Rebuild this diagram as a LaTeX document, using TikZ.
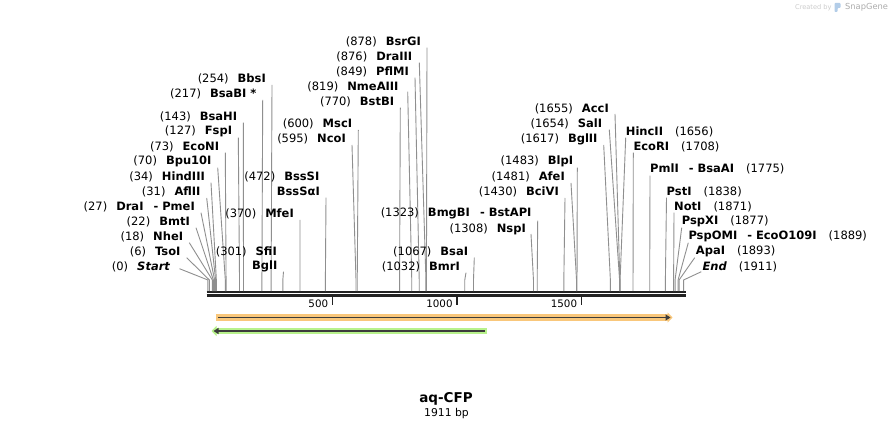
\documentclass[tikz,border=0pt]{standalone}
\usepackage{fontspec}
\setmainfont{DejaVu Sans}
\usetikzlibrary{positioning,arrows.meta,calc}
\definecolor{cutgray}{HTML}{8F8F8F}
\definecolor{bardark}{HTML}{222222}
\definecolor{featorange}{HTML}{F9C77B}
\definecolor{featgreen}{HTML}{B8F28C}
\definecolor{featdark}{HTML}{3C3C3C}
\definecolor{iconblue}{HTML}{B3CDE8}
\tikzset{
  site/.style={inner sep=0pt, font=\fontsize{11.5}{13}\selectfont},
  sitel/.style={site, anchor=east},
  siter/.style={site, anchor=west},
  cutln/.style={draw=cutgray, line width=0.9pt},
  seqbar/.style={draw=bardark, line width=2.7pt},
  tickmk/.style={draw=bardark, line width=1.5pt},
  ticklbl/.style={inner sep=0pt, anchor=east, font=\fontsize{10.3}{12}\selectfont},
  feathalo/.style={line width=6.5pt, -{Triangle[length=5pt,width=10pt]}},
  featline/.style={draw=featdark, line width=1.8pt, -{Triangle[length=5pt,width=6pt]}}
}
\newcommand{\bpx}[1]{207.9+0.2489*#1}
\newcommand{\cutl}[2]{(#1)\hspace{9pt}\textbf{#2}}
\newcommand{\cutr}[2]{\textbf{#2}\hspace{12pt}(#1)}
\newcommand{\cutsep}{\hspace{10pt}-\hspace{4pt}}

\begin{document}
\begin{tikzpicture}[x=1pt, y=-1pt]
  \fill[white] (0,0) rectangle (893,430);
  \useasboundingbox (0,0) rectangle (893,430);
  %% positions on the sequence
  \foreach \p in {0,6,18,22,27,31,34,70,73,127,143,217,254,301,370,472,595,600,
                  770,819,849,876,878,1032,1067,1308,1323,1430,1481,1483,1617,
                  1654,1655,1656,1708,1775,1838,1871,1877,1889,1893,1911}
    \coordinate (b\p) at ({\bpx{\p}},280);
  %% sequence and ruler
  \draw[seqbar] (206.5,292) -- (686,292);
  \draw[seqbar] (206.5,295.8) -- (686,295.8);
  \foreach \t in {500,1000,1500} {
    \draw[tickmk] ({\bpx{\t}},297) -- ++(0,8);
    \node[ticklbl] (tick\t) at ({\bpx{\t}-4},303.5) {\t};
  }
  %% features
  \draw[feathalo, featorange] (216,317.5) -- (672.5,317.5);
  \draw[featline] (218,317.5) -- (670.5,317.5);
  \draw[feathalo, featgreen] (487,331) -- (211.5,331);
  \draw[featline] (485,331) -- (213.5,331);
  %% left group
  \node[sitel] (start)   at (170.5,266.7) {\cutl{0}{\textit{Start}}};
  \node[sitel] (tsoi)    at (180.7,251.7) {\cutl{6}{TsoI}};
  \node[sitel] (nhei)    at (183.3,236.7) {\cutl{18}{NheI}};
  \node[sitel] (bmti)    at (190,221.7)   {\cutl{22}{BmtI}};
  \node[sitel] (drai)    at (195,206.7)   {\cutl{27}{DraI\cutsep PmeI}};
  \node[sitel] (aflii)   at (200.7,192)   {\cutl{31}{AflII}};
  \node[sitel] (hindiii) at (205,176.7)   {\cutl{34}{HindIII}};
  \node[sitel] (bpu)     at (211.7,161.7) {\cutl{70}{Bpu10I}};
  \node[sitel] (econi)   at (219.3,146.7) {\cutl{73}{EcoNI}};
  \node[sitel] (fspi)    at (232.3,131.7) {\cutl{127}{FspI}};
  \node[sitel] (bsahi)   at (237.3,116.7) {\cutl{143}{BsaHI}};
  \node[sitel] (bsabi)   at (256.7,94)    {\cutl{217}{BsaBI *}};
  \node[sitel] (bbsi)    at (266,79)      {\cutl{254}{BbsI}};
  \draw[cutln] ([shift={(9pt,-2pt)}]start.east) -- (b0) -- ++(0,11);
  \draw[cutln] ([shift={(6pt,-6pt)}]tsoi.east) -- (b6) -- ++(0,11);
  \draw[cutln] ([shift={(6pt,-6pt)}]nhei.east) -- (b18) -- ++(0,11);
  \draw[cutln] ([shift={(6pt,-6pt)}]bmti.east) -- (b22) -- ++(0,11);
  \draw[cutln] ([shift={(6pt,-6pt)}]drai.east) -- (b27) -- ++(0,11);
  \draw[cutln] ([shift={(6pt,-6pt)}]aflii.east) -- (b31) -- ++(0,11);
  \draw[cutln] ([shift={(6pt,-6pt)}]hindiii.east) -- (b34) -- ++(0,11);
  \draw[cutln] ([shift={(6pt,-6pt)}]bpu.east) -- (b70) -- ++(0,11);
  \draw[cutln] ([shift={(6pt,-6pt)}]econi.east) -- (b73) -- ++(0,11);
  \draw[cutln] ([shift={(6pt,-6pt)}]fspi.east) -- (b127) -- ++(0,11);
  \draw[cutln] ([shift={(6pt,-6pt)}]bsahi.east) -- (b143) -- ++(0,11);
  \draw[cutln] ([shift={(6pt,-6pt)}]bsabi.east) -- (b217) -- ++(0,11);
  \draw[cutln] ([shift={(6pt,-6pt)}]bbsi.east) -- (b254) -- ++(0,11);
  %% middle group
  \node[sitel] (sfii)    at (277,251.7)   {\cutl{301}{SfiI}};
  \node[sitel] (bgli)    at (277.5,266.7) {\textbf{BglI}};
  \node[sitel] (mfei)    at (294,214)     {\cutl{370}{MfeI}};
  \node[sitel] (bsssi)   at (319.5,176.7) {\cutl{472}{BssSI}};
  \node[sitel] (bsssai)  at (320,191.7)   {\textbf{BssSαI}};
  \node[sitel] (msci)    at (352.3,124)   {\cutl{600}{MscI}};
  \node[sitel] (ncoi)    at (346,139)     {\cutl{595}{NcoI}};
  \node[sitel] (bstbi)   at (394.3,101.7) {\cutl{770}{BstBI}};
  \node[sitel] (nmeaiii) at (398.7,86.7)  {\cutl{819}{NmeAIII}};
  \node[sitel] (pflmi)   at (409,71.7)    {\cutl{849}{PflMI}};
  \node[sitel] (draiii)  at (412.3,56.7)  {\cutl{876}{DraIII}};
  \node[sitel] (bsrgi)   at (421,41.7)    {\cutl{878}{BsrGI}};
  \draw[cutln] ([shift={(6pt,-5pt)}]bgli.east) -- (b301) -- ++(0,11);
  \draw[cutln] ([shift={(6pt,-6pt)}]mfei.east) -- (b370) -- ++(0,11);
  \draw[cutln] ([shift={(6pt,-6pt)}]bsssai.east) -- (b472) -- ++(0,11);
  \draw[cutln] ([shift={(6pt,-6pt)}]msci.east) -- (b600) -- ++(0,11);
  \draw[cutln] ([shift={(6pt,-6pt)}]ncoi.east) -- (b595) -- ++(0,11);
  \draw[cutln] ([shift={(6pt,-6pt)}]bstbi.east) -- (b770) -- ++(0,11);
  \draw[cutln] ([shift={(9pt,-5pt)}]nmeaiii.east) -- (b819) -- ++(0,11);
  \draw[cutln] ([shift={(6pt,-6pt)}]pflmi.east) -- (b849) -- ++(0,11);
  \draw[cutln] ([shift={(7pt,-6pt)}]draiii.east) -- (b876) -- ++(0,11);
  \draw[cutln] ([shift={(6pt,-6pt)}]bsrgi.east) -- (b878) -- ++(0,11);
  %% right-middle group
  \node[sitel] (bmri)    at (460,266.7)   {\cutl{1032}{BmrI}};
  \node[sitel] (bsai)    at (468.3,251.7) {\cutl{1067}{BsaI}};
  \node[sitel] (nspi)    at (526,229)     {\cutl{1308}{NspI}};
  \node[sitel] (bmgbi)   at (531.7,213.7) {\cutl{1323}{BmgBI\cutsep BstAPI}};
  \node[sitel] (bcivi)   at (559,192)     {\cutl{1430}{BciVI}};
  \node[sitel] (afei)    at (565,177)     {\cutl{1481}{AfeI}};
  \node[sitel] (blpi)    at (573.3,161.7) {\cutl{1483}{BlpI}};
  \node[sitel] (bglii)   at (597.7,139)   {\cutl{1617}{BglII}};
  \node[sitel] (sali)    at (602.3,123.7) {\cutl{1654}{SalI}};
  \node[sitel] (acci)    at (609,109)     {\cutl{1655}{AccI}};
  \draw[cutln] ([shift={(6pt,-6pt)}]bmri.east) -- (b1032) -- ++(0,11);
  \draw[cutln] ([shift={(6pt,-6pt)}]bsai.east) -- (b1067) -- ++(0,11);
  \draw[cutln] ([shift={(5pt,-5pt)}]nspi.east) -- (b1308) -- ++(0,11);
  \draw[cutln] ([shift={(6pt,-7pt)}]bmgbi.east) -- (b1323) -- ++(0,11);
  \draw[cutln] ([shift={(6pt,-6pt)}]bcivi.east) -- (b1430) -- ++(0,11);
  \draw[cutln] ([shift={(6pt,-6pt)}]afei.east) -- (b1481) -- ++(0,11);
  \draw[cutln] ([shift={(4pt,-6pt)}]blpi.east) -- (b1483) -- ++(0,11);
  \draw[cutln] ([shift={(6pt,-6pt)}]bglii.east) -- (b1617) -- ++(0,11);
  \draw[cutln] ([shift={(7pt,-6pt)}]sali.east) -- (b1654) -- ++(0,11);
  \draw[cutln] ([shift={(6pt,-5pt)}]acci.east) -- (b1655) -- ++(0,11);
  %% right group
  \node[siter] (hincii)  at (625.7,131.7) {\cutr{1656}{HincII}};
  \node[siter] (ecori)   at (633.3,146.7) {\cutr{1708}{EcoRI}};
  \node[siter] (pmli)    at (650,168.7)   {\cutr{1775}{PmlI\cutsep BsaAI}};
  \node[siter] (psti)    at (666.5,191.7) {\cutr{1838}{PstI}};
  \node[siter] (noti)    at (674,206.7)   {\cutr{1871}{NotI}};
  \node[siter] (pspxi)   at (681.7,221.7) {\cutr{1877}{PspXI}};
  \node[siter] (pspomi)  at (688.3,236.7) {\cutr{1889}{PspOMI\cutsep EcoO109I}};
  \node[siter] (apai)    at (695.7,251.7) {\cutr{1893}{ApaI}};
  \node[siter] (endlbl)  at (702.3,266.7) {\cutr{1911}{\textit{End}}};
  \draw[cutln] ([shift={(0pt,-6pt)}]hincii.west) -- (b1656) -- ++(0,11);
  \draw[cutln] ([shift={(0pt,-6pt)}]ecori.west) -- (b1708) -- ++(0,11);
  \draw[cutln] ([shift={(0pt,-7pt)}]pmli.west) -- (b1775) -- ++(0,11);
  \draw[cutln] ([shift={(0pt,-6pt)}]psti.west) -- (b1838) -- ++(0,11);
  \draw[cutln] ([shift={(0pt,-6pt)}]noti.west) -- (b1871) -- ++(0,11);
  \draw[cutln] ([shift={(0pt,-6pt)}]pspxi.west) -- (b1877) -- ++(0,11);
  \draw[cutln] ([shift={(0pt,-6pt)}]pspomi.west) -- (b1889) -- ++(0,11);
  \draw[cutln] ([shift={(-1pt,-6pt)}]apai.west) -- (b1893) -- ++(0,11);
  \draw[cutln] ([shift={(-1pt,-5pt)}]endlbl.west) -- (b1911) -- ++(0,11);
  %% name and size
  \node[font=\fontsize{13.5}{15}\selectfont\bfseries, inner sep=0pt] (title) at (446,398.5) {aq-CFP};
  \node[font=\fontsize{10.8}{12}\selectfont, inner sep=0pt] (size) at (446.5,414) {1911 bp};
  %% watermark
  \node[font=\fontsize{6.6}{8}\selectfont, text=gray!40, anchor=west, inner sep=0pt] (created) at (795,7.5) {Created by};
  \fill[iconblue, rounded corners=0.8pt] (834.5,3) -- (840.5,3) -- (840.5,8) -- (837.5,8) -- (837.5,12) -- (834.5,12) -- cycle;
  \node[font=\fontsize{8.3}{10}\selectfont, text=gray!65, anchor=west, inner sep=0pt] (snapgene) at (845,7.5) {SnapGene};
\end{tikzpicture}
\end{document}
